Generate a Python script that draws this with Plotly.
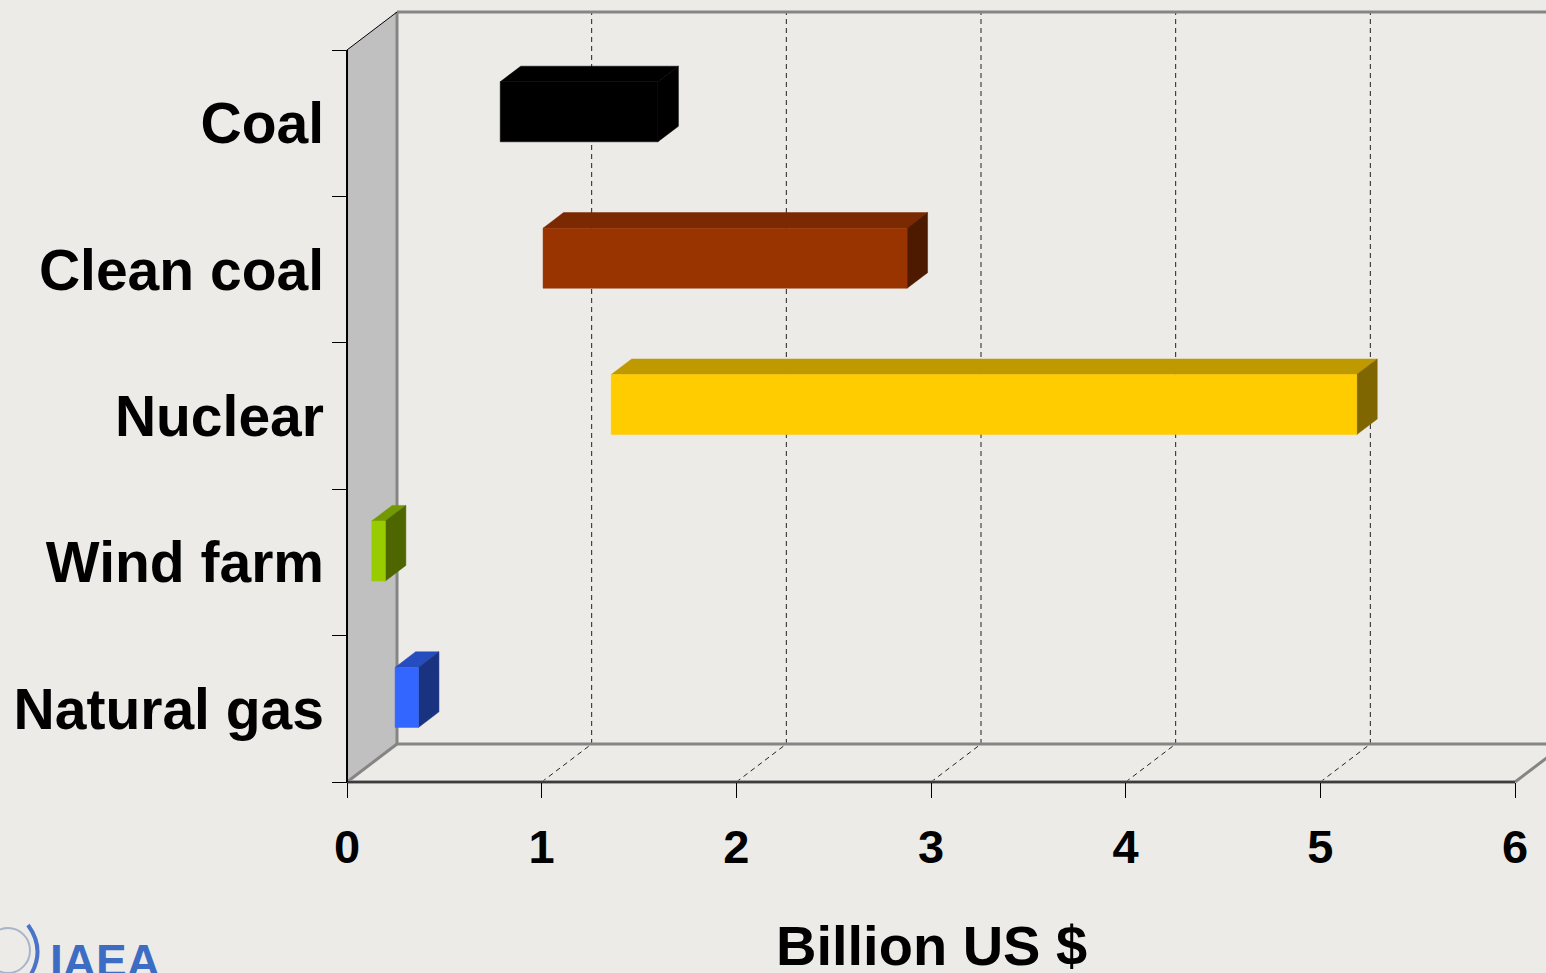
import plotly.graph_objects as go

# Capital cost ranges by technology (billion US $), listed top to bottom
categories = ["Coal", "Clean coal", "Nuclear", "Wind farm", "Natural gas"]
cost_low = [0.71, 0.93, 1.28, 0.05, 0.17]
cost_high = [1.52, 2.80, 5.11, 0.12, 0.29]
x_ticks = [0, 1, 2, 3, 4, 5, 6]
x_title = "Billion US $"

# face colours: front, top, side
face_colors = [
    ("#000000", "#000000", "#000000"),
    ("#993300", "#7A2900", "#4D1A00"),
    ("#FFCC00", "#BF9900", "#806600"),
    ("#99CC00", "#739900", "#4D6600"),
    ("#3366FF", "#264DBF", "#1A3380"),
]

W, H = 1546, 973
BG = "#EDEBE7"
FONT = "Liberation Sans, Arial, sans-serif"

# axis ranges chosen so the front plane spans 0..6 and the bands stack 0..5
X_RANGE = [-1.7826, 6.1592]
Y_RANGE = [-1.3046, 5.3415]
N = len(categories)

# oblique depth of the 3-D box, in axis units
DX, DY = 0.2568, 0.2596
F0, F1 = 0.30, 0.71          # bar front / back depth fractions
HALF = 0.205                 # half height of a bar

fig = go.Figure()


def poly(xs, ys, color, width=0, line_color=None):
    fig.add_trace(go.Scatter(
        x=list(xs) + [xs[0]], y=list(ys) + [ys[0]],
        mode="lines", fill="toself", fillcolor=color,
        line=dict(width=width, color=line_color or color),
        hoverinfo="skip", showlegend=False))


def seg(x, y, color, width, dash="solid"):
    fig.add_trace(go.Scatter(
        x=x, y=y, mode="lines",
        line=dict(color=color, width=width, dash=dash),
        hoverinfo="skip", showlegend=False))


x_max = max(x_ticks)

# left side wall
poly([0, 0, DX, DX], [0, N, N + DY, DY], "#C0C0C0")

# dashed gridlines: on the back wall and across the floor
for v in x_ticks[1:]:
    seg([v + DX, v + DX], [DY, N + DY], "#222222", 1, "5px,4px")
    if v < x_max:
        seg([v, v + DX], [0, DY], "#222222", 1, "5px,4px")

# box edges
seg([DX, DX], [DY, N + DY], "#858585", 3)
seg([DX, X_RANGE[1] + 1], [N + DY, N + DY], "#858585", 3)
seg([DX, X_RANGE[1] + 1], [DY, DY], "#858585", 3)
seg([0, DX], [0, DY], "#858585", 3)
seg([x_max, x_max + DX], [0, DY], "#858585", 3)
seg([0, DX], [N, N + DY], "#000000", 1)
seg([0, x_max], [0, 0], "#8A8A8A", 3.5)
seg([0, x_max], [0, 0], "#222222", 1.5)
seg([0, 0], [0, N], "#000000", 2)

# floating 3-D bars
for i, (lo, hi) in enumerate(zip(cost_low, cost_high)):
    front, top, side = face_colors[i]
    band = N - 1 - i
    yc = band + 0.5 + F0 * DY
    y0, y1 = yc - HALF, yc + HALF
    dy = (F1 - F0) * DY
    xa, xb = lo + F0 * DX, hi + F0 * DX
    xa2, xb2 = lo + F1 * DX, hi + F1 * DX
    poly([xa, xb, xb2, xa2], [y1, y1, y1 + dy, y1 + dy], top, 0.5)
    poly([xb, xb2, xb2, xb], [y0, y0 + dy, y1 + dy, y1], side, 0.5)
    poly([xa, xb, xb, xa], [y0, y0, y1, y1], front, 0.5)

fig.update_layout(
    width=W, height=H,
    margin=dict(l=0, r=0, t=0, b=0),
    paper_bgcolor=BG, plot_bgcolor=BG,
    showlegend=False,
    xaxis=dict(
        range=X_RANGE, domain=[0, 1], anchor="free",
        position=(H - 782) / H,
        showgrid=False, zeroline=False, showline=False,
        tickmode="array", tickvals=x_ticks,
        ticks="outside", ticklen=15, tickwidth=1, tickcolor="#000000",
        ticklabelstandoff=9,
        tickfont=dict(family=FONT, size=47, color="#000000", weight="bold"),
        fixedrange=True,
    ),
    yaxis=dict(
        range=Y_RANGE, domain=[0, 1], anchor="free",
        position=347 / W,
        showgrid=False, zeroline=False, showline=False,
        tickmode="array",
        tickvals=[N - 1 - i + 0.5 for i in range(N)],
        ticktext=categories,
        ticks="", ticklabelstandoff=23,
        tickfont=dict(family=FONT, size=57, color="#000000", weight="bold"),
        minor=dict(tickmode="array", tickvals=list(range(N + 1)),
                   ticks="outside", ticklen=15, tickwidth=1,
                   tickcolor="#000000", showgrid=False),
        fixedrange=True,
    ),
    shapes=[
        # emblem beside the IAEA wordmark
        dict(type="circle", xref="paper", yref="paper",
             x0=-14 / W, x1=30 / W, y0=(H - 973) / H, y1=(H - 928) / H,
             line=dict(color="#A9B4C8", width=2)),
        dict(type="path", xref="paper", yref="paper",
             path=f"M {28 / W},{(H - 925) / H} Q {46 / W},{(H - 950) / H} {30 / W},{(H - 976) / H}",
             line=dict(color="#4A74C9", width=4)),
    ],
    annotations=[
        dict(text=x_title, x=3.0, y=-0.89, xref="x", yref="y",
             xanchor="center", yanchor="top", showarrow=False,
             font=dict(family=FONT, size=56, color="#000000", weight="bold")),
        dict(text="IAEA", x=48 / W, y=(H - 933) / H, xref="paper", yref="paper",
             xanchor="left", yanchor="top", showarrow=False,
             font=dict(family=FONT, size=46, color="#3D6CC4", weight="bold")),
    ],
)

fig.write_html("out.html")
